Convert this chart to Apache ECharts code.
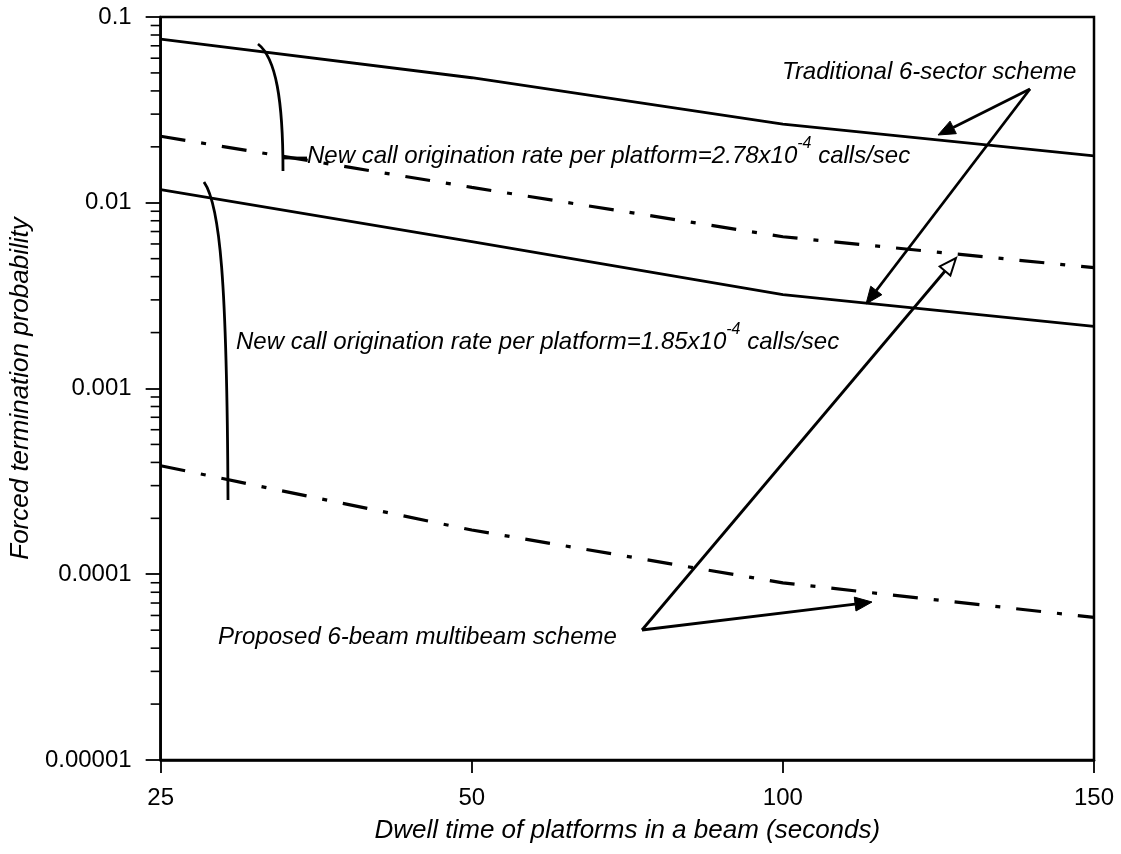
<!DOCTYPE html>
<html>
<head>
<meta charset="utf-8">
<script src="https://cdn.jsdelivr.net/npm/echarts@6/dist/echarts.min.js"></script>
<style>
html,body{margin:0;padding:0;background:#fff;}
#chart{width:1121px;height:854px;}
</style>
</head>
<body>
<div id="chart"></div>
<script>
// ---- data ----
const dwellTimes = ['25', '50', '100', '150'];
const traditionalHighRate = [0.0760, 0.0471, 0.0265, 0.0179];
const proposedHighRate   = [0.0228, 0.0121, 0.00656, 0.00447];
const traditionalLowRate = [0.01175, 0.00617, 0.00320, 0.00216];
const proposedLowRate    = [0.000384, 0.000173, 0.0000899, 0.0000586];
const yTickLabels = {'-5': '0.00001', '-4': '0.0001', '-3': '0.001', '-2': '0.01', '-1': '0.1'};

const FONT = '"Liberation Sans", Arial, Helvetica, sans-serif';

// minor tick values of the log axis (2..9 per decade)
const minorTicks = [];
for (let e = -5; e < -1 + 0.1; e++) {
  for (let k = 2; k <= 9; k++) {
    const v = k * Math.pow(10, e);
    if (v < 0.1) minorTicks.push([0, v]);
  }
}

const chart = echarts.init(document.getElementById('chart'), null, {renderer: 'canvas'});

function arrow(ax, ay, tx, ty, hollow) {
  const dx = tx - ax, dy = ty - ay;
  const len = Math.sqrt(dx * dx + dy * dy);
  const ux = dx / len, uy = dy / len;
  const L = 17, W = 7;
  const bx = tx - ux * L, by = ty - uy * L;
  const nx = -uy, ny = ux;
  return [
    {type: 'line', shape: {x1: ax, y1: ay, x2: bx, y2: by}, style: {stroke: '#000', lineWidth: 2.8}, z: 100},
    {type: 'polygon', shape: {points: [[tx, ty], [bx + nx * W, by + ny * W], [bx - nx * W, by - ny * W]]},
     style: {fill: hollow ? '#fff' : '#000', stroke: '#000', lineWidth: hollow ? 2 : 1}, z: 101}
  ];
}

const annStyle = {fontFamily: FONT, fontStyle: 'italic', fontSize: 24, fill: '#000'};

function rateText(x, y, rate) {
  return {
    type: 'text', x: x, y: y, z: 100,
    style: {
      text: '{a|New call origination rate per platform=' + rate + 'x10}{s|-4}{a| calls/sec}',
      fontFamily: FONT, fontStyle: 'italic', fill: '#000',
      verticalAlign: 'middle', align: 'left',
      rich: {
        a: {fontFamily: FONT, fontStyle: 'italic', fontSize: 24, lineHeight: 32, verticalAlign: 'bottom', fill: '#000'},
        s: {fontFamily: FONT, fontStyle: 'italic', fontSize: 16, lineHeight: 14, verticalAlign: 'top', fill: '#000'}
      }
    }
  };
}

const graphics = [
  // Traditional label + arrows
  {type: 'text', x: 782, y: 72, z: 100, style: Object.assign({text: 'Traditional 6-sector scheme', verticalAlign: 'middle'}, annStyle)},
  ...arrow(1030, 89, 938, 135, false),
  ...arrow(1030, 89, 866, 304, false),
  // Proposed label + arrows
  {type: 'text', x: 218, y: 637, z: 100, style: Object.assign({text: 'Proposed 6-beam multibeam scheme', verticalAlign: 'middle'}, annStyle)},
  ...arrow(642, 630, 872, 602, false),
  ...arrow(642, 630, 956, 258, true),
  // rate labels
  rateText(307, 152, '2.78'),
  rateText(236, 338, '1.85'),
  // brackets
  {type: 'bezierCurve', z: 100, shape: {x1: 258, y1: 44, cpx1: 276, cpy1: 58, cpx2: 283, cpy2: 100, x2: 283, y2: 171},
   style: {stroke: '#000', lineWidth: 2.8, fill: null}},
  {type: 'line', z: 100, shape: {x1: 283, y1: 158, x2: 307, y2: 158}, style: {stroke: '#000', lineWidth: 2.8}},
  {type: 'bezierCurve', z: 100, shape: {x1: 204, y1: 182, cpx1: 220, cpy1: 205, cpx2: 227, cpy2: 280, x2: 228, y2: 500},
   style: {stroke: '#000', lineWidth: 2.8, fill: null}}
];

const lineBase = {type: 'line', symbol: 'none', smooth: false, silent: true, z: 5};

chart.setOption({
  animation: false,
  backgroundColor: '#fff',
  grid: {left: 157, right: 27, top: 17, bottom: 94, show: true, borderColor: '#000', borderWidth: 2.5, containLabel: false},
  xAxis: {
    type: 'category', data: dwellTimes, boundaryGap: false,
    name: 'Dwell time of platforms in a beam (seconds)', nameLocation: 'middle', nameGap: 58,
    nameTextStyle: {fontFamily: FONT, fontStyle: 'italic', fontSize: 26, color: '#000'},
    axisLine: {lineStyle: {color: '#000', width: 2.5}},
    axisTick: {show: true, inside: false, length: 13, alignWithLabel: true, lineStyle: {color: '#000', width: 1.8}},
    axisLabel: {fontFamily: FONT, fontSize: 24, color: '#000', margin: 26},
    splitLine: {show: false}
  },
  yAxis: {
    type: 'log', logBase: 10, min: 0.00001, max: 0.1,
    name: 'Forced termination probability', nameLocation: 'middle', nameGap: 125,
    nameTextStyle: {fontFamily: FONT, fontStyle: 'italic', fontSize: 26, color: '#000'},
    axisLine: {show: true, lineStyle: {color: '#000', width: 2.5}},
    axisTick: {show: true, inside: false, length: 15, lineStyle: {color: '#000', width: 1.8}},
    axisLabel: {fontFamily: FONT, fontSize: 24, color: '#000', margin: 29,
      formatter: function (v) {
        const e = Math.round(Math.log10(v));
        return yTickLabels[String(e)] || '';
      }},
    splitLine: {show: false}
  },
  series: [
    Object.assign({}, lineBase, {name: 'Traditional, 2.78e-4', data: traditionalHighRate, lineStyle: {color: '#000', width: 2.8}}),
    Object.assign({}, lineBase, {name: 'Proposed, 2.78e-4', data: proposedHighRate, lineStyle: {color: '#000', width: 3.2, type: [25, 16, 5, 16], cap: 'butt'}}),
    Object.assign({}, lineBase, {name: 'Traditional, 1.85e-4', data: traditionalLowRate, lineStyle: {color: '#000', width: 2.8}}),
    Object.assign({}, lineBase, {name: 'Proposed, 1.85e-4', data: proposedLowRate, lineStyle: {color: '#000', width: 3.2, type: [25, 16, 5, 16], cap: 'butt'}}),
    {
      type: 'custom', name: 'minor ticks', data: minorTicks, clip: false, silent: true, z: 10,
      renderItem: function (params, api) {
        const p = api.coord([api.value(0), api.value(1)]);
        return {type: 'line', shape: {x1: p[0] - 10, y1: p[1], x2: p[0], y2: p[1]}, style: {stroke: '#000', lineWidth: 1.6}};
      }
    }
  ],
  graphic: graphics
});
</script>
</body>
</html>
